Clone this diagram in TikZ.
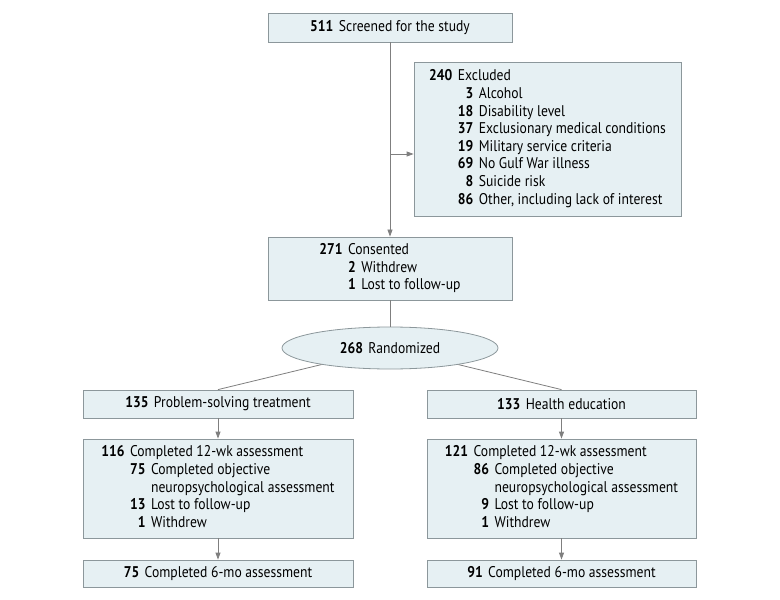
\documentclass[tikz,border=0pt]{standalone}
\usepackage{fontspec}
\setmainfont{PT Sans}[FakeStretch=0.88]
\usetikzlibrary{arrows.meta,shapes.geometric}
\definecolor{boxfill}{HTML}{E6F0F3}
\definecolor{boxline}{HTML}{8C979B}
\definecolor{connc}{HTML}{7F7F7F}
\newcommand\fs{\fontsize{15.5bp}{17.6bp}\selectfont}
\newcommand\N[1]{\textbf{#1}}
\newcommand\subtab[1]{\begin{tabular}[t]{@{}r@{\hspace{5.5bp}}l@{}}#1\end{tabular}}
\tikzset{
  box/.style={draw=boxline, fill=boxfill, line width=0.8bp, inner sep=0pt, font=\fs},
  connl/.style={draw=connc, line width=0.8bp},
  arr/.style={connl, -{Triangle[length=7bp,width=5bp]}}
}
\begin{document}
\begin{tikzpicture}[x=1bp,y=-1bp]
\useasboundingbox (0,0) rectangle (780,600);
% boxes
\node[box, minimum width=244bp, minimum height=29bp] (scr) at (390,27.5)
  {\N{511}\hspace{5.5bp}Screened for the study};
\node[box, minimum width=267bp, minimum height=154bp] (excl) at (547.5,139)
  {\begin{tabular}{@{}r@{\hspace{5.5bp}}l@{}}
   \N{240} & Excluded\\
   & \subtab{\N{3} & Alcohol\\
     \N{18} & Disability level\\
     \N{37} & Exclusionary medical conditions\\
     \N{19} & Military service criteria\\
     \N{69} & No Gulf War illness\\
     \N{8} & Suicide risk\\
     \N{86} & Other, including lack of interest}
   \end{tabular}};
\node[box, minimum width=244bp, minimum height=63bp] (cons) at (390,268.5)
  {\begin{tabular}{@{}r@{\hspace{5.5bp}}l@{}}
   \N{271} & Consented\\
   & \subtab{\N{2} & Withdrew\\
     \N{1} & Lost to follow-up}
   \end{tabular}};
\node[box, ellipse, minimum width=216bp, minimum height=42bp] (rand) at (390,348)
  {\N{268}\hspace{5.5bp}Randomized};
\node[box, minimum width=270bp, minimum height=28bp] (pst) at (218,404)
  {\N{135}\hspace{5.5bp}Problem-solving treatment};
\node[box, minimum width=269bp, minimum height=28bp] (he) at (561.5,404)
  {\N{133}\hspace{5.5bp}Health education};
\node[box, minimum width=270bp, minimum height=99bp] (pst12) at (218,488.5)
  {\begin{tabular}{@{}r@{\hspace{5.5bp}}l@{}}
   \N{116} & Completed 12-wk assessment\\
   & \subtab{\N{75} & Completed objective\\
     & neuropsychological assessment\\
     \N{13} & Lost to follow-up\\
     \N{1} & Withdrew}
   \end{tabular}};
\node[box, minimum width=269bp, minimum height=99bp] (he12) at (561.5,488.5)
  {\begin{tabular}{@{}r@{\hspace{5.5bp}}l@{}}
   \N{121} & Completed 12-wk assessment\\
   & \subtab{\N{86} & Completed objective\\
     & neuropsychological assessment\\
     \N{9} & Lost to follow-up\\
     \N{1} & Withdrew}
   \end{tabular}};
\node[box, minimum width=270bp, minimum height=27bp] (pst6) at (218,573.5)
  {\N{75}\hspace{5.5bp}Completed 6-mo assessment};
\node[box, minimum width=269bp, minimum height=27bp] (he6) at (561.5,573.5)
  {\N{91}\hspace{5.5bp}Completed 6-mo assessment};
% connectors
\coordinate (br) at (390,154);
\draw[arr] (scr.south) -- (cons.north);
\draw[arr] (br) -- (excl.west |- br);
\draw[connl] (cons.south) -- (rand.north);
\draw[connl] (rand) -- (pst.north);
\draw[connl] (rand) -- (he.north);
\draw[arr] (pst.south) -- (pst12.north);
\draw[arr] (he.south) -- (he12.north);
\draw[arr] (pst12.south) -- (pst6.north);
\draw[arr] (he12.south) -- (he6.north);
\end{tikzpicture}
\end{document}
